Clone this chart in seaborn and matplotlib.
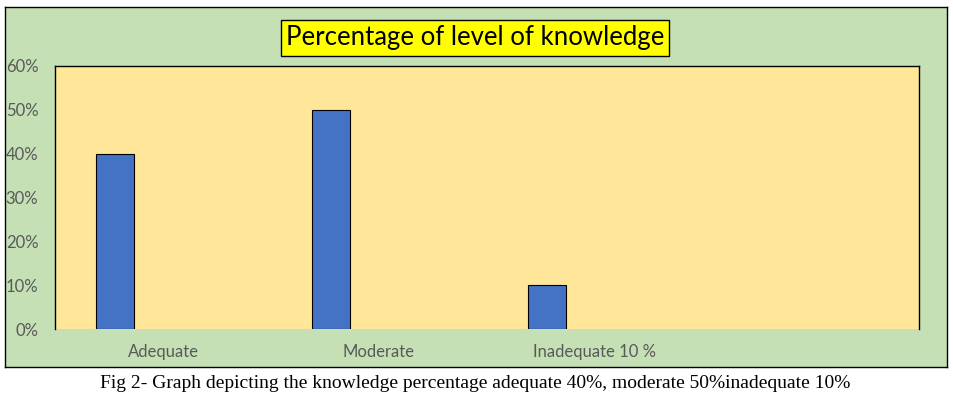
import numpy as np
import pandas as pd
import matplotlib
matplotlib.use("Agg")
import matplotlib.pyplot as plt
import seaborn as sns
from matplotlib.ticker import PercentFormatter

# data
categories = ["Adequate", "Moderate", "Inadequate 10 %"]
values = [0.40, 0.50, 0.10]
y_ticks = [0.0, 0.1, 0.2, 0.3, 0.4, 0.5, 0.6]

title = "Percentage of level of knowledge"
caption = "Fig 2- Graph depicting the knowledge percentage adequate 40%, moderate 50%inadequate 10%"

sns.set_style("white")
plt.rcParams["font.family"] = ["Lato", "DejaVu Sans"]

df = pd.DataFrame({"level": categories, "pct": values})

fig = plt.figure(figsize=(9.54, 4.03), dpi=100)
fig.patch.set_facecolor("white")

# green chart area with black frame (background axes)
bg = fig.add_axes([5 / 954, 36 / 403, 942 / 954, 360 / 403], zorder=-1)
bg.set_facecolor("#C5E0B4")
bg.set_xticks([])
bg.set_yticks([])
for s in bg.spines.values():
    s.set_visible(True)
    s.set_color("black")
    s.set_linewidth(1.0)

ax = fig.add_axes([55 / 954, 74 / 403, 864 / 954, 263 / 403], zorder=1)
ax.set_facecolor("#FFE699")

sns.barplot(data=df, x="level", y="pct", color="#4472C4", width=0.176,
            edgecolor="black", linewidth=0.8, saturation=1, ax=ax)

# excel-style offset of the bars within each category slot
for p in ax.patches:
    p.set_x(p.get_x() - 0.222)

ax.set_xlim(-0.5, 3.5)
ax.set_ylim(0, 0.6)
ax.set_yticks(y_ticks)
ax.yaxis.set_major_formatter(PercentFormatter(1.0, decimals=0))
ax.set_xlabel("")
ax.set_ylabel("")
ax.tick_params(axis="y", length=0, pad=12, labelsize=12, labelcolor="#595959")
ax.tick_params(axis="x", length=0, pad=11, labelsize=12, labelcolor="#595959")

for side in ["top", "left", "right"]:
    ax.spines[side].set_visible(True)
    ax.spines[side].set_color("black")
    ax.spines[side].set_linewidth(1.0)
ax.spines["bottom"].set_visible(False)

fig.text(475 / 954, 1 - 38 / 403, title, ha="center", va="center",
         fontsize=18.5, family=["Lato", "DejaVu Sans"], color="black",
         bbox=dict(boxstyle="square,pad=0.2", facecolor="#FFFF00",
                   edgecolor="black", linewidth=1.0), zorder=5)

fig.text(475 / 954, 1 - 383 / 403, caption, ha="center", va="center",
         fontsize=14, family=["Liberation Serif", "DejaVu Serif"], color="black")

fig.savefig("out.png", dpi=100)
